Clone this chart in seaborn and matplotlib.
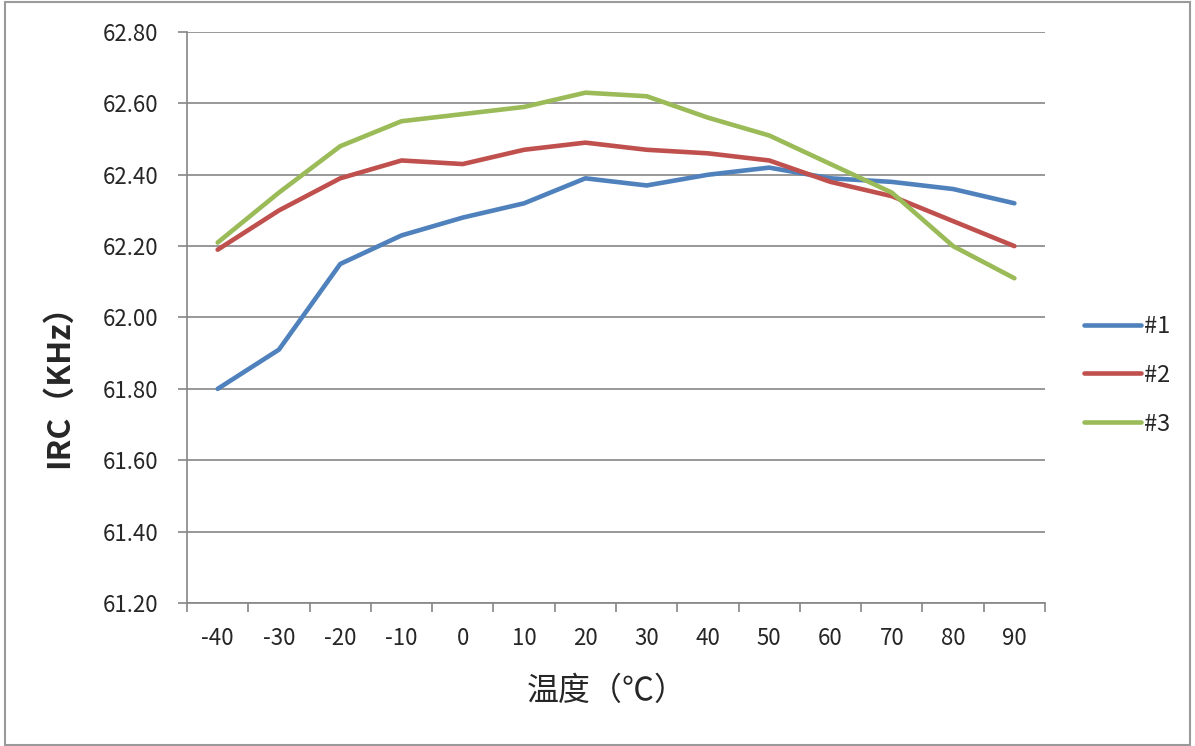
import pandas as pd
import matplotlib
matplotlib.use('Agg')
import matplotlib.pyplot as plt
import matplotlib.patches as patches
from matplotlib.ticker import FixedLocator, FormatStrFormatter
import seaborn as sns

# Data
temps = ['-40', '-30', '-20', '-10', '0', '10', '20', '30', '40', '50', '60', '70', '80', '90']
irc_1 = [61.80, 61.91, 62.15, 62.23, 62.28, 62.32, 62.39, 62.37, 62.40, 62.42, 62.39, 62.38, 62.36, 62.32]
irc_2 = [62.19, 62.30, 62.39, 62.44, 62.43, 62.47, 62.49, 62.47, 62.46, 62.44, 62.38, 62.34, 62.27, 62.20]
irc_3 = [62.21, 62.35, 62.48, 62.55, 62.57, 62.59, 62.63, 62.62, 62.56, 62.51, 62.43, 62.35, 62.20, 62.11]
series_names = ['#1', '#2', '#3']
colors = ['#4F81BD', '#C0504D', '#9BBB59']

rows = []
for name, vals in zip(series_names, [irc_1, irc_2, irc_3]):
    for t, v in zip(temps, vals):
        rows.append({'temp': t, 'irc': v, 'series': name})
df = pd.DataFrame(rows)

sns.set_style('white')
plt.rcParams['font.family'] = ['Noto Sans CJK SC', 'DejaVu Sans']

fig = plt.figure(figsize=(11.95, 7.46), dpi=100)
ax = fig.add_axes([0.1565, 0.1917, 0.718, 0.7654])

sns.lineplot(data=df, x='temp', y='irc', hue='series', palette=colors,
             linewidth=3.3, sort=False, ax=ax, legend=False)

grid_c = '#868686'
ax.set_ylim(61.2, 62.8)
ax.set_yticks([61.2 + 0.2 * i for i in range(9)])
ax.yaxis.set_major_formatter(FormatStrFormatter('%.2f'))
ax.set_xlim(-0.5, len(temps) - 0.5)
ax.set_xticks(range(len(temps)))
ax.set_xticklabels(temps)
ax.xaxis.set_minor_locator(FixedLocator([i - 0.5 for i in range(len(temps) + 1)]))

ax.grid(axis='y', color=grid_c, linewidth=1.2)
ax.set_axisbelow(True)
for s in ['top', 'right']:
    ax.spines[s].set_visible(False)
for s in ['left', 'bottom']:
    ax.spines[s].set_color(grid_c)
    ax.spines[s].set_linewidth(1.2)

ax.tick_params(axis='y', which='major', direction='out', length=6.5, width=1.2,
               color=grid_c, labelsize=16, pad=14, left=True)
ax.tick_params(axis='x', which='major', length=0, labelsize=16, pad=17, bottom=True)
ax.tick_params(axis='x', which='minor', direction='out', length=6.5, width=1.2,
               color=grid_c, bottom=True)

# Excel places the axis titles a little off-centre
ax.set_ylabel('IRC（KHz）', fontsize=23, fontweight='bold')
ax.yaxis.set_label_coords(-0.131, 0.394)
ax.set_xlabel('温度（℃）', fontsize=23, fontweight='medium')
ax.xaxis.set_label_coords(0.4895, -0.126)

handles = [plt.Line2D([], [], color=c, linewidth=3.3, solid_capstyle='round') for c in colors]
fig.legend(handles, series_names, loc='center left', bbox_to_anchor=(0.8895, 0.497),
           frameon=False, fontsize=17, handlelength=2.4, handletextpad=0.12,
           labelspacing=1.1)

fig.patches.append(patches.Rectangle((0.004, 0.002), 0.992, 0.995, transform=fig.transFigure,
                                     fill=False, edgecolor='#9a9a9a', linewidth=1.5))

fig.savefig('out.png', dpi=100)
